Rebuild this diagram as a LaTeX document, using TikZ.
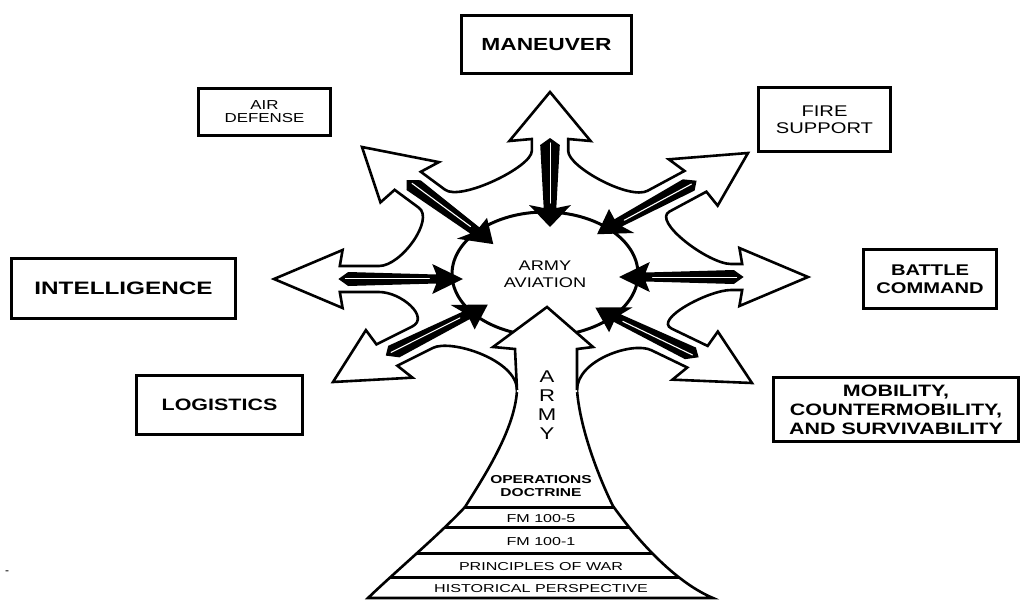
\documentclass[tikz,border=0pt]{standalone}
\usepackage{fontspec}
\setmainfont{Liberation Sans}
\usetikzlibrary{shapes.geometric}
\newcommand{\wide}[2][1.3]{\scalebox{#1}[1]{#2}}
\tikzset{
  box/.style={draw, line width=3pt, inner sep=0pt, align=center},
  outline/.style={draw, fill=white, line width=2.6pt, line join=miter},
  band/.style={line width=3pt},
  dart/.style={fill=black},
  shine/.style={draw=white, line width=1.1pt, line cap=round},
  pics/hollow/.style={code={
    \coordinate (-t) at (0,0);
    \coordinate (-bp) at (-49,29);
    \coordinate (-np) at (-47,13);
    \coordinate (-sp) at (-47-#1,13);
    \coordinate (-cp) at (-63-#1,13);
    \coordinate (-bm) at (-49,-29);
    \coordinate (-nm) at (-47,-13);
    \coordinate (-sm) at (-47-#1,-13);
    \coordinate (-cm) at (-63-#1,-13);
    \coordinate (-d0) at (-46,0);
    \coordinate (-d1) at (-53,7);
    \coordinate (-d2) at (-116,4.5);
    \coordinate (-d3) at (-113,15);
    \coordinate (-d4) at (-135,0);
    \coordinate (-d5) at (-113,-15);
    \coordinate (-d6) at (-116,-4.5);
    \coordinate (-d7) at (-53,-7);
    \coordinate (-w1) at (-51,0.5);
    \coordinate (-w2) at (-111,0.5);
  }},
}
\begin{document}
\begin{tikzpicture}[x=1pt, y=-1pt]
\useasboundingbox (0,0) rectangle (1026,600);
\fill[white] (0,0) rectangle (1026,600);
% arrow frames
\pic[xscale=1.4, rotate=90] (up) at (550,92) {hollow=12};
\pic[xscale=1.4, rotate=134] (ul) at (362,147) {hollow=25};
\pic[xscale=1.4, rotate=180] (le) at (274,279) {hollow=28};
\pic[xscale=1.4, rotate=215] (ll) at (333,382) {hollow=31};
\pic[xscale=1.4, rotate=-34] (lr) at (752,383) {hollow=31};
\pic[xscale=1.4, rotate=0] (ri) at (808,277) {hollow=8};
\pic[xscale=1.4, rotate=37] (ur) at (748,153) {hollow=33};
% outer shape with trunk
\draw[outline, save path=\flowerpath]
  (up-sp) -- (up-np) -- (up-bp) -- (up-t) -- (up-bm) -- (up-nm) -- (up-sm)
  .. controls (up-cm) and (ul-cp) .. (ul-sp) -- (ul-np) -- (ul-bp) -- (ul-t) -- (ul-bm) -- (ul-nm) -- (ul-sm)
  .. controls (ul-cm) and (le-cp) .. (le-sp) -- (le-np) -- (le-bp) -- (le-t) -- (le-bm) -- (le-nm) -- (le-sm)
  .. controls (le-cm) and (ll-cp) .. (ll-sp) -- (ll-np) -- (ll-bp) -- (ll-t) -- (ll-bm) -- (ll-nm) -- (ll-sm)
  .. controls (ll-cm) and (517,360) .. (517,390)
  .. controls (515,430) and (483,478) .. (465,507)
  .. controls (440,534) and (395,572) .. (368,598)
  -- (713,598)
  .. controls (670,580) and (630,530) .. (613,506)
  .. controls (600,480) and (580,430) .. (577,390)
  .. controls (577,360) and (lr-cp) .. (lr-sp) -- (lr-np) -- (lr-bp) -- (lr-t) -- (lr-bm) -- (lr-nm) -- (lr-sm)
  .. controls (lr-cm) and (ri-cp) .. (ri-sp) -- (ri-np) -- (ri-bp) -- (ri-t) -- (ri-bm) -- (ri-nm) -- (ri-sm)
  .. controls (ri-cm) and (ur-cp) .. (ur-sp) -- (ur-np) -- (ur-bp) -- (ur-t) -- (ur-bm) -- (ur-nm) -- (ur-sm)
  .. controls (ur-cm) and (up-cp) .. (up-sp) -- cycle;
% bands of the trunk
\begin{scope}
\clip[use path=\flowerpath];
\draw[band] (340,507) -- (760,507);
\draw[band] (340,527) -- (760,527);
\draw[band] (340,553) -- (760,553);
\draw[band] (340,577) -- (760,577);
\end{scope}
\node[draw, ellipse, line width=3pt, fill=white, inner sep=0pt, minimum width=186pt, minimum height=124pt,
  align=center, font=\fontsize{14}{17}\selectfont] (aviation) at (545,274) {\wide{ARMY}\\\wide{AVIATION}};
% trunk head
\fill[white] (547,307) -- (593,347) -- (577,349) -- (577,392) -- (517,392) -- (515,349) -- (493,347) -- cycle;
\draw[line width=2.6pt, line join=miter] (517,390) -- (515,349) -- (493,347) -- (547,307) -- (593,347) -- (577,349) -- (577,390);
% inner darts
\fill[dart] (up-d0) -- (up-d1) -- (up-d2) -- (up-d3) -- (up-d4) -- (up-d5) -- (up-d6) -- (up-d7) -- cycle;
\fill[dart] (ul-d0) -- (ul-d1) -- (ul-d2) -- (ul-d3) -- (ul-d4) -- (ul-d5) -- (ul-d6) -- (ul-d7) -- cycle;
\fill[dart] (le-d0) -- (le-d1) -- (le-d2) -- (le-d3) -- (le-d4) -- (le-d5) -- (le-d6) -- (le-d7) -- cycle;
\fill[dart] (ll-d0) -- (ll-d1) -- (ll-d2) -- (ll-d3) -- (ll-d4) -- (ll-d5) -- (ll-d6) -- (ll-d7) -- cycle;
\fill[dart] (lr-d0) -- (lr-d1) -- (lr-d2) -- (lr-d3) -- (lr-d4) -- (lr-d5) -- (lr-d6) -- (lr-d7) -- cycle;
\fill[dart] (ri-d0) -- (ri-d1) -- (ri-d2) -- (ri-d3) -- (ri-d4) -- (ri-d5) -- (ri-d6) -- (ri-d7) -- cycle;
\fill[dart] (ur-d0) -- (ur-d1) -- (ur-d2) -- (ur-d3) -- (ur-d4) -- (ur-d5) -- (ur-d6) -- (ur-d7) -- cycle;
\draw[shine] (up-w1) -- (up-w2);
\draw[shine] (ul-w1) -- (ul-w2);
\draw[shine] (le-w1) -- (le-w2);
\draw[shine] (ll-w1) -- (ll-w2);
\draw[shine] (lr-w1) -- (lr-w2);
\draw[shine] (ri-w1) -- (ri-w2);
\draw[shine] (ur-w1) -- (ur-w2);
% trunk texts
\node[align=center, inner sep=0pt, font=\fontsize{17}{19}\selectfont] (army) at (547,405) {\wide{A}\\\wide{R}\\\wide{M}\\\wide{Y}};
\node[align=center, inner sep=0pt, font=\bfseries\fontsize{11.5}{13}\selectfont] (opdoc) at (541,486.5) {\wide[1.35]{OPERATIONS}\\\wide[1.35]{DOCTRINE}};
\node[inner sep=0pt, font=\fontsize{11.5}{13}\selectfont] (fm5) at (541,519) {\wide[1.4]{FM 100-5}};
\node[inner sep=0pt, font=\fontsize{11.5}{13}\selectfont] (fm1) at (541,542) {\wide[1.4]{FM 100-1}};
\node[inner sep=0pt, font=\fontsize{11.5}{13}\selectfont] (princ) at (541,567) {\wide[1.4]{PRINCIPLES OF WAR}};
\node[inner sep=0pt, font=\fontsize{11.5}{13}\selectfont] (hist) at (541,589) {\wide[1.4]{HISTORICAL PERSPECTIVE}};
% boxes
\node[box, minimum width=170pt, minimum height=58pt, font=\bfseries\fontsize{17.5}{19}\selectfont] (maneuver) at (546.5,44.5) {\wide{MANEUVER}};
\node[box, minimum width=132pt, minimum height=47pt, font=\fontsize{13}{13}\selectfont] (airdef) at (264.5,112) {\wide{AIR}\\\wide{DEFENSE}};
\node[box, minimum width=132pt, minimum height=64pt, font=\fontsize{15.5}{16.5}\selectfont] (firesup) at (824.5,119.5) {\wide{FIRE}\\\wide{SUPPORT}};
\node[box, minimum width=224pt, minimum height=60pt, font=\bfseries\fontsize{18}{20}\selectfont] (intel) at (123.5,288.5) {\wide[1.35]{INTELLIGENCE}};
\node[box, minimum width=133pt, minimum height=59pt, font=\bfseries\fontsize{15.5}{17.5}\selectfont] (battle) at (930,279) {\wide{BATTLE}\\\wide{COMMAND}};
\node[box, minimum width=166pt, minimum height=59pt, font=\bfseries\fontsize{16.5}{18}\selectfont] (logist) at (219.5,405) {\wide{LOGISTICS}};
\node[box, minimum width=245pt, minimum height=64pt, font=\bfseries\fontsize{16.5}{19}\selectfont] (mobil) at (896,409.5) {\wide{MOBILITY,}\\\wide{COUNTERMOBILITY,}\\\wide{AND SURVIVABILITY}};
\node[inner sep=0pt, font=\fontsize{12}{12}\selectfont] (dash) at (7,573) {-};
\end{tikzpicture}
\end{document}
